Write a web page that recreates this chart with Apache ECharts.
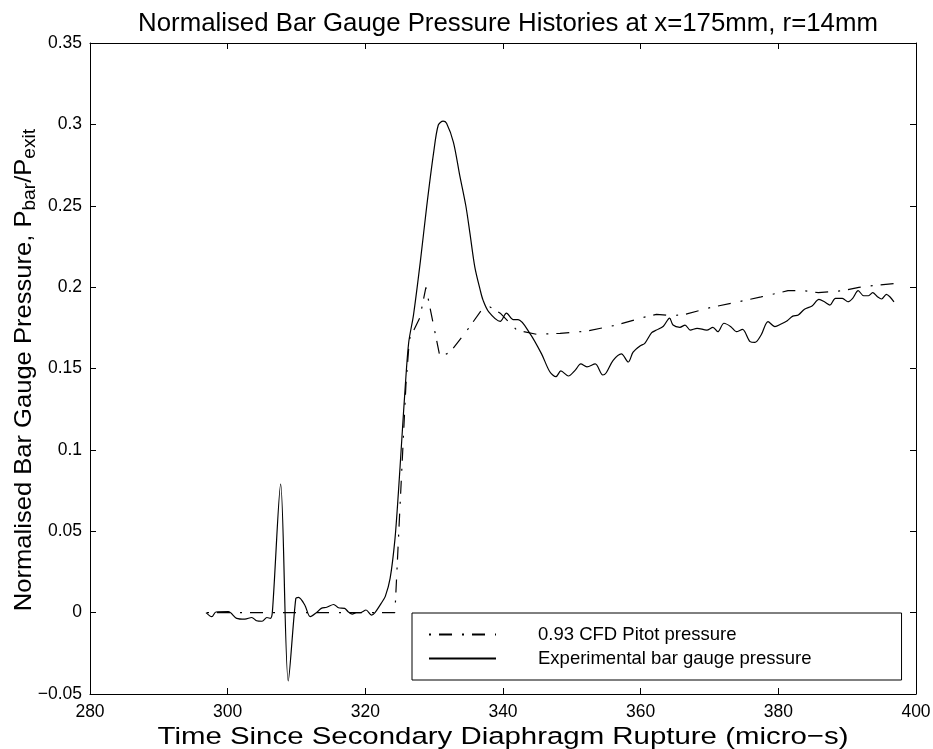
<!DOCTYPE html>
<html>
<head>
<meta charset="utf-8">
<script src="https://cdn.jsdelivr.net/npm/echarts@6/dist/echarts.min.js"></script>
<style>
html,body{margin:0;padding:0;background:#fff;}
#chart{width:933px;height:749px;}
</style>
</head>
<body>
<div id="chart"></div>
<script>
const titleText = 'Normalised Bar Gauge Pressure Histories at x=175mm, r=14mm';
const xAxisName = 'Time Since Secondary Diaphragm Rupture (micro\u2212s)';
const yAxisName = 'Normalised Bar Gauge Pressure, P{sub|bar}/P{sub|exit}';
const seriesNames = ['0.93 CFD Pitot pressure', 'Experimental bar gauge pressure'];
const xTicks = [280, 300, 320, 340, 360, 380, 400];
const yTicks = [-0.05, 0, 0.05, 0.1, 0.15, 0.2, 0.25, 0.3, 0.35];

const expTime = [296.85,297.7,298.3,300.1,301.3,302.5,303.5,304.2,305.0,305.7,306.2,306.5,307.7,308.8,309.9,310.3,311.2,312.0,312.9,313.6,314.4,315.4,316.1,317.0,317.5,318.1,318.7,319.3,320.1,320.9,321.4,322.3,322.9,323.6,324.3,324.8,325.3,325.8,326.3,327.0,328.0,328.9,329.9,330.6,331.3,331.8,332.8,333.7,334.6,335.2,335.9,336.7,337.1,337.9,339.6,340.5,341.5,342.2,343.9,345.6,346.8,347.7,348.4,349.5,350.5,351.3,352.2,353.4,354.5,355.0,356.0,357.2,358.2,358.9,359.9,360.6,361.6,362.3,363.3,364.2,364.7,365.7,366.45,367.2,368.2,369.6,370.5,371.2,372.1,373.1,373.9,374.8,375.9,376.6,377.5,378.5,379.5,380.4,381.3,382.1,382.9,383.8,384.9,385.9,386.8,387.5,388.3,389.3,390.1,390.8,391.6,392.4,393.1,393.7,394.4,395.0,395.7,396.2,396.8];
const expValue = [0.000,-0.0025,0.0004,0.0006,-0.0035,-0.004,-0.003,-0.005,-0.0053,-0.003,-0.0035,0.0006,0.079,-0.042,0.0088,0.0094,0.0047,-0.0025,0.000,0.0026,0.0033,0.005,0.003,0.0026,0.0006,-0.0009,0.000,0.000,0.0016,-0.0015,0.000,0.0057,0.010,0.021,0.045,0.0736,0.1065,0.139,0.166,0.183,0.216,0.249,0.282,0.2996,0.302,0.3007,0.289,0.269,0.250,0.233,0.2125,0.198,0.192,0.185,0.179,0.184,0.180,0.180,0.1716,0.159,0.148,0.145,0.1485,0.1454,0.149,0.1528,0.151,0.1528,0.146,0.1474,0.155,0.159,0.154,0.160,0.1638,0.1655,0.172,0.1736,0.176,0.181,0.1767,0.1753,0.1767,0.1736,0.1747,0.1736,0.1753,0.1726,0.1778,0.1757,0.1726,0.174,0.1665,0.166,0.1706,0.1788,0.1757,0.1773,0.1794,0.1822,0.1829,0.1864,0.1884,0.1925,0.1907,0.189,0.1931,0.1931,0.191,0.1931,0.1978,0.1947,0.1947,0.1966,0.1941,0.1927,0.1956,0.1941,0.191];

const cfdTime = [297.0,324.3,325.0,325.9,326.4,327.9,328.8,330.85,332.3,334.7,336.9,338.1,339.6,342.0,344.9,348.3,352.2,356.5,360.4,362.3,364.3,366.2,370.1,373.1,377.5,381.4,383.4,385.8,389.3,391.7,394.6,397.3];
const cfdValue = [0,0,0.062,0.14,0.168,0.181,0.1998,0.157,0.160,0.173,0.186,0.1878,0.184,0.1736,0.171,0.1716,0.173,0.1767,0.1814,0.1833,0.1825,0.183,0.1874,0.190,0.194,0.1978,0.198,0.1966,0.1978,0.1999,0.2013,0.2023];

const FONT = '"Liberation Sans", Arial, Helvetica, sans-serif';
const pair = (xs, ys) => xs.map((x, i) => [x, ys[i]]);
const fmtY = v => {
  if (Math.abs(v) < 1e-9) return '0';
  const s = parseFloat(Math.abs(v).toFixed(2)).toString();
  return (v < 0 ? '\u2212' : '') + s;
};

const chart = echarts.init(document.getElementById('chart'), null, {renderer: 'canvas'});
const axisCommon = {
  axisLine: {show: true, onZero: false, lineStyle: {color: '#000', width: 1}},
  axisTick: {show: true, inside: true, length: 6, lineStyle: {color: '#000', width: 1}},
  splitLine: {show: false}
};
chart.setOption({
  backgroundColor: '#fff',
  animation: false,
  title: {
    text: titleText,
    left: 503, top: 6, textAlign: 'center',
    textStyle: {fontFamily: FONT, fontSize: 25.8, fontWeight: 'normal', color: '#000'}
  },
  grid: {left: 90, right: 17, top: 43, bottom: 55, containLabel: false, outerBoundsMode: 'none'},
  legend: {
    orient: 'vertical', left: 412, top: 613,
    data: seriesNames,
    itemWidth: 67, itemHeight: 14, itemGap: 5,
    padding: [12, 90, 12, 16],
    borderColor: '#000', borderWidth: 1,
    backgroundColor: '#fff',
    itemStyle: {color: 'transparent', borderWidth: 0, opacity: 0},
    textStyle: {fontFamily: FONT, fontSize: 18.5, color: '#000', lineHeight: 18, width: 240, padding: [0, 0, 0, 37]}
  },
  graphic: [
    {type: 'text', x: 503, y: 737, scaleX: 1.2, silent: true,
      style: {text: xAxisName, fontFamily: FONT, fontSize: 24.5, fill: '#000', align: 'center', verticalAlign: 'middle'}},
    {type: 'text', x: 24, y: 370, rotation: Math.PI / 2, scaleX: 1.065, silent: true,
      style: {text: yAxisName, fontFamily: FONT, fontSize: 24, fill: '#000', align: 'center', verticalAlign: 'middle',
        lineHeight: 30,
        rich: {sub: {fontFamily: FONT, fontSize: 18, fill: '#000', verticalAlign: 'bottom', lineHeight: 16}}}}
  ],
  xAxis: [
    Object.assign({type: 'value', min: xTicks[0], max: xTicks[xTicks.length - 1], interval: 20, position: 'bottom',
      axisLabel: {show: true, margin: 9, fontFamily: FONT, fontSize: 17.5, color: '#000'}}, axisCommon),
    Object.assign({type: 'value', min: xTicks[0], max: xTicks[xTicks.length - 1], interval: 20, position: 'top',
      axisLabel: {show: false}}, axisCommon)
  ],
  yAxis: [
    Object.assign({type: 'value', min: yTicks[0], max: yTicks[yTicks.length - 1], interval: 0.05, position: 'left',
      axisLabel: {show: true, margin: 8, fontFamily: FONT, fontSize: 17.5, color: '#000', formatter: fmtY}}, axisCommon),
    Object.assign({type: 'value', min: yTicks[0], max: yTicks[yTicks.length - 1], interval: 0.05, position: 'right',
      axisLabel: {show: false}}, axisCommon)
  ],
  series: [
    {name: seriesNames[0], type: 'line', data: pair(cfdTime, cfdValue), symbol: 'none', smooth: false,
      lineStyle: {color: '#000', width: 1.2, type: [2, 8, 13, 10]}, itemStyle: {color: '#000'}, z: 3},
    {name: seriesNames[1], type: 'line', data: pair(expTime, expValue), symbol: 'none', smooth: 0.3,
      lineStyle: {color: '#000', width: 1.2, type: 'solid'}, itemStyle: {color: '#000'}, z: 4}
  ]
});
</script>
</body>
</html>
